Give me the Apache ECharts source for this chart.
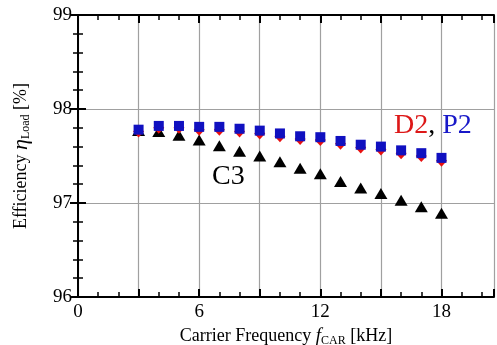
<!DOCTYPE html>
<html><head><meta charset="utf-8">
<script src="https://cdn.jsdelivr.net/npm/echarts@6/dist/echarts.min.js"></script>
<style>html,body{margin:0;padding:0;background:#fff}#c{width:497px;height:345px}</style>
</head><body><div id="c"></div>
<script>
const freq = [3,4,5,6,7,8,9,10,11,12,13,14,15,16,17,18];
const effC3 = [97.77,97.76,97.72,97.67,97.61,97.55,97.50,97.44,97.37,97.31,97.23,97.16,97.10,97.03,96.96,96.89];
const effD2 = [97.76,97.80,97.80,97.78,97.78,97.76,97.74,97.71,97.68,97.67,97.63,97.59,97.57,97.53,97.50,97.45];
const effP2 = [97.78,97.82,97.82,97.81,97.81,97.79,97.77,97.74,97.71,97.70,97.66,97.62,97.60,97.56,97.53,97.48];
const xTickLabels = ['0','6','12','18'];
const yTickLabels = ['96','97','98','99'];

const FONT = "'Liberation Serif','DejaVu Serif',serif";
const pair = (ys) => freq.map((x,i)=>[x, ys[i]]);
const axLine = {show:true, lineStyle:{color:'#000', width:2}};
const xBase = {type:'value', min:0, max:20.6, interval:3,
  axisLine:axLine,
  axisTick:{show:true, inside:true, length:8, lineStyle:{color:'#000', width:2}},
  minorTick:{show:true, splitNumber:3, length:5, lineStyle:{color:'#000', width:1.5}},
  minorSplitLine:{show:false}};
const yBase = {type:'value', min:96, max:99, interval:1,
  axisLine:axLine,
  axisTick:{show:true, inside:true, length:8, lineStyle:{color:'#000', width:2}},
  minorTick:{show:true, splitNumber:5, length:5, lineStyle:{color:'#000', width:1.5}},
  minorSplitLine:{show:false}};

const chart = echarts.init(document.getElementById('c'), null, {renderer:'canvas'});
chart.setOption({
  animation:false,
  backgroundColor:'#fff',
  grid:{left:78, top:15, right:3, bottom:48, containLabel:false, outerBoundsMode:'none'},
  xAxis:[
    Object.assign({}, xBase, {position:'bottom',
      splitLine:{show:true, lineStyle:{color:'#a0a0a0', width:1.2}},
      axisLabel:{show:true, color:'#000', fontFamily:FONT, fontSize:19, margin:6,
        formatter:(v)=> xTickLabels.includes(String(v)) ? String(v) : '', showMaxLabel:false},
      name:'{n|Carrier Frequency }{i|f}{s|CAR}{n| [kHz]}', nameLocation:'middle', nameGap:28,
      nameTextStyle:{rich:{
        n:{fontFamily:FONT, fontSize:18, color:'#000'},
        i:{fontFamily:FONT, fontSize:19, fontStyle:'italic', color:'#000'},
        s:{fontFamily:FONT, fontSize:12, color:'#000', verticalAlign:'bottom', padding:[8,0,0,0]}}}}),
    Object.assign({}, xBase, {position:'top', splitLine:{show:false}, axisLabel:{show:false}})
  ],
  yAxis:[
    Object.assign({}, yBase, {position:'left',
      splitLine:{show:true, lineStyle:{color:'#a0a0a0', width:1.2}},
      axisLabel:{show:true, color:'#000', fontFamily:FONT, fontSize:19, margin:6,
        formatter:(v)=> yTickLabels.includes(String(v)) ? String(v) : ''},
      name:'{n|Efficiency }{i|η}{s|Load}{n| [%]}', nameLocation:'middle', nameGap:46, nameRotate:90,
      nameTextStyle:{rich:{
        n:{fontFamily:FONT, fontSize:18, color:'#000'},
        i:{fontFamily:FONT, fontSize:22, fontStyle:'italic', color:'#000'},
        s:{fontFamily:FONT, fontSize:12, color:'#000', verticalAlign:'bottom', padding:[8,0,0,0]}}}}),
    Object.assign({}, yBase, {position:'right', splitLine:{show:false}, axisLabel:{show:false}})
  ],
  series:[
    {name:'C3', type:'scatter', data:pair(effC3), symbol:'triangle', symbolSize:[13,11],
      itemStyle:{color:'#000', opacity:1}, z:2},
    {name:'D2', type:'scatter', data:pair(effD2), symbol:'diamond', symbolSize:[11,12],
      itemStyle:{color:'#e81010', opacity:1}, z:3},
    {name:'P2', type:'scatter', data:pair(effP2), symbol:'rect', symbolSize:10,
      itemStyle:{color:'#1010c0', opacity:1}, z:4}
  ],
  graphic:[
    {type:'text', left:394, top:112, z:10, style:{
      text:'{r|D2}{k|, }{b|P2}',
      rich:{r:{fontFamily:FONT, fontSize:28, fill:'#dd1818'},
            k:{fontFamily:FONT, fontSize:28, fill:'#000'},
            b:{fontFamily:FONT, fontSize:28, fill:'#1818c8'}}}},
    {type:'text', left:212, top:163, z:10, style:{
      text:'C3', fontFamily:FONT, fontSize:28, fill:'#000'}}
  ]
});
</script></body></html>
